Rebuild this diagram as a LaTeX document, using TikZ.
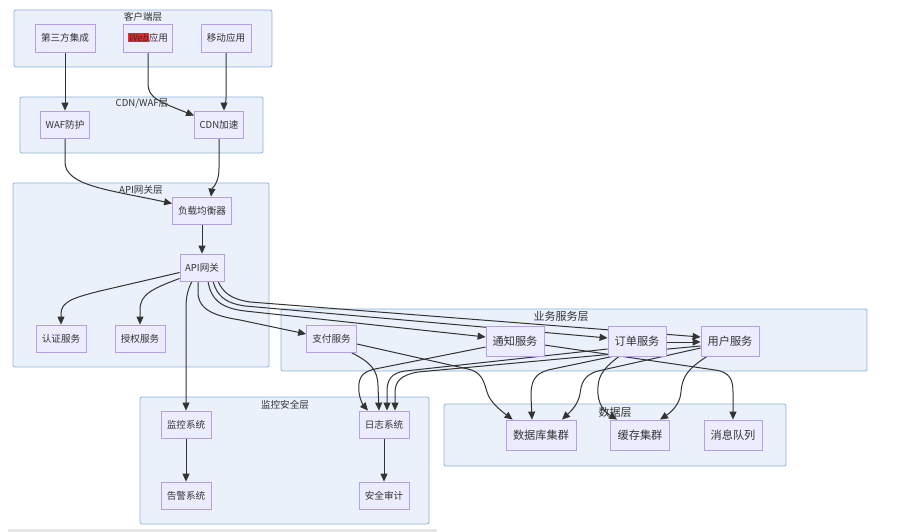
\documentclass[tikz,border=0pt]{standalone}
\usepackage{fontspec}
\setmainfont{Noto Sans CJK SC}
\newfontfamily\slfont[FakeSlant=0.2]{Noto Sans CJK SC}
\usetikzlibrary{arrows.meta}
\definecolor{clfill}{HTML}{EAF1FB}
\definecolor{cldraw}{HTML}{8DB2DB}
\definecolor{ndfill}{HTML}{ECECFF}
\definecolor{nddraw}{HTML}{B79FE6}
\definecolor{edgec}{HTML}{333333}
\definecolor{webred}{HTML}{F0202C}
\definecolor{txt}{HTML}{333333}
\pgfdeclarelayer{bg}\pgfdeclarelayer{edges}
\pgfsetlayers{bg,edges,main}
\tikzset{
  cluster/.style={fill=clfill,draw=cldraw,line width=0.8pt,rounded corners=2pt},
  cllabel/.style={inner sep=0pt,text=txt,font=\fontsize{9.6}{10}\selectfont},
  cllabelb/.style={inner sep=0pt,text=txt,font=\fontsize{11}{12}\selectfont},
  nd/.style={fill=ndfill,draw=nddraw,line width=0.8pt,inner sep=0pt,text=txt,
    minimum width=50pt,minimum height=27pt,font=\fontsize{9.6}{10}\selectfont},
  ndb/.style={fill=ndfill,draw=nddraw,line width=0.8pt,inner sep=0pt,text=txt,
    minimum width=58pt,minimum height=30pt,font=\fontsize{11.2}{12}\selectfont},
  edge/.style={draw=edgec,line width=1pt,-{Triangle[length=8pt,width=7pt]}},
}
\begin{document}
\begin{tikzpicture}[x=1pt,y=-1pt]
\useasboundingbox (0,0) rectangle (909,532);

% nodes
\node[nd,minimum width=60pt,minimum height=28pt] (t3) at (65,38) {第三方集成};
\node[nd,minimum width=49pt,minimum height=28pt] (web) at (148,38) {{\setlength\fboxsep{0.6pt}\colorbox{webred}{\slfont Web}}应用};
\node[nd,minimum height=28pt] (mob) at (226,38) {移动应用};
\node[nd,minimum width=49pt] (waf) at (65,124.5) {WAF防护};
\node[nd,minimum width=49pt] (cdn) at (219,124.5) {CDN加速};
\node[nd,minimum width=59pt] (lb) at (202,210.5) {负载均衡器};
\node[nd,minimum width=44pt] (api) at (202,267.5) {API网关};
\node[nd] (auth) at (61,338.5) {认证服务};
\node[nd] (authz) at (140,338.5) {授权服务};
\node[nd] (pay) at (331.5,339) {支付服务};
\node[ndb] (notify) at (515,341) {通知服务};
\node[ndb] (order) at (637,341) {订单服务};
\node[ndb] (user) at (730,341) {用户服务};
\node[ndb,minimum width=70pt] (db) at (541,435) {数据库集群};
\node[ndb,minimum width=59pt] (cache) at (640,435) {缓存集群};
\node[ndb] (mq) at (733,435) {消息队列};
\node[nd] (mon) at (186,424.5) {监控系统};
\node[nd] (alarm) at (186,495.5) {告警系统};
\node[nd] (log) at (384,424.5) {日志系统};
\node[nd] (audit) at (384,495.5) {安全审计};

% clusters
\begin{pgfonlayer}{bg}
\fill[white] (0,0) rectangle (909,532);
\draw[cluster] (14,10) rectangle (272,67);
\node[cllabel] (lc1) at (143,17) {客户端层};
\draw[cluster] (20,97) rectangle (263,153);
\node[cllabel] (lc2) at (142,103.5) {CDN/WAF层};
\draw[cluster] (13,183) rectangle (269,367);
\node[cllabel] (lc3) at (141,189.5) {API网关层};
\draw[cluster] (281,309) rectangle (867,371);
\node[cllabelb] (lc4) at (561,316) {业务服务层};
\draw[cluster] (444,404) rectangle (786,466);
\node[cllabelb] (lc5) at (615,412) {数据层};
\draw[cluster] (140,397) rectangle (429,524);
\node[cllabel] (lc6) at (285,404.5) {监控安全层};
\fill[black!10] (8,529) rectangle (437,532);
\end{pgfonlayer}

% edges
\begin{pgfonlayer}{edges}
\draw[edge] (t3.south) -- (waf.north);
\draw[edge] (web.south) -- (148,84) .. controls (148,98) and (160,102) .. ([yshift=-5pt]cdn.north west);
\draw[edge] (mob.south) -- (226,98) .. controls (226,104) and (224,106) .. ([xshift=5pt]cdn.north);
\draw[edge] (waf.south) -- (65,162) .. controls (65,186) and (110,190) .. ([yshift=7pt]lb.west);
\draw[edge] (cdn.south) -- (219,168) .. controls (219,184) and (212,188) .. ([xshift=9pt]lb.north);
\draw[edge] (lb.south) -- (api.north);
\draw[edge] ([yshift=-5pt]api.west) -- (100,291) .. controls (72,298) and (61,302) .. (61,314) -- (auth.north);
\draw[edge] ([yshift=3pt]api.south west) .. controls (152,289) and (140,294) .. (140,310) -- (authz.north);
\draw[edge] ([xshift=-10pt]api.south) .. controls (188,289) and (186,296) .. (186,308) -- (mon.north);
\draw[edge] ([xshift=-4pt]api.south) -- (198,292) .. controls (198,310) and (215,316) .. (240,320) -- ([yshift=5pt]pay.west);
\draw[edge] ([xshift=6pt]api.south) .. controls (211,299) and (220,308) .. (245,311) -- ([yshift=4pt]notify.west);
\draw[edge] ([xshift=11pt]api.south) .. controls (217,295) and (224,303) .. (245,306) -- ([yshift=3pt]order.west);
\draw[edge] ([xshift=16pt]api.south) .. controls (223,292) and (230,299) .. (250,302) -- ([yshift=4pt]user.west);
\draw[edge] ([yshift=-1pt]order.east) -- ([yshift=-1pt]user.west);
\draw[edge] ([yshift=-5pt]pay.east) -- (468,369) .. controls (482,372) and (484,382) .. (487,392) .. controls (490,402) and (500,410) .. ([xshift=7pt]db.north west);
\draw[edge] ([xshift=-5pt]pay.south east) .. controls (370,362) and (378,370) .. (378,386) -- ([xshift=-5pt]log.north);
\draw[edge] ([yshift=-6pt]notify.west) -- (375,369) .. controls (360,372) and (358,380) .. (359,392) .. controls (360,401) and (364,406) .. ([xshift=-16pt]log.north);
\draw[edge] ([yshift=-8pt]order.west) -- (405,371) .. controls (391,373) and (387,380) .. (387,392) -- ([xshift=3pt]log.north);
\draw[edge] ([yshift=-5pt]user.west) -- (418,372) .. controls (401,375) and (395,381) .. (395,393) -- ([xshift=11pt]log.north);
\draw[edge] ([yshift=-4pt]notify.east) -- (715,370) .. controls (730,372) and (733,380) .. (733,392) -- (mq.north);
\draw[edge] ([xshift=5pt]order.south west) -- (548,370) .. controls (534,374) and (531,382) .. (531,396) -- ([xshift=-9pt]db.north);
\draw[edge] ([yshift=-7pt]user.west) -- (598,371) .. controls (583,375) and (581,385) .. (580,394) .. controls (578,405) and (570,412) .. ([xshift=21pt]db.north);
\draw[edge] ([xshift=-18pt]order.south) .. controls (601,370) and (597,378) .. (598,394) .. controls (599,408) and (608,414) .. ([xshift=-23pt]cache.north);
\draw[edge] ([xshift=-23pt]user.south) .. controls (689,368) and (682,376) .. (681,392) .. controls (680,405) and (670,413) .. ([xshift=20pt]cache.north);
\draw[edge] (mon.south) -- (alarm.north);
\draw[edge] (log.south) -- (audit.north);
\end{pgfonlayer}
\end{tikzpicture}
\end{document}
